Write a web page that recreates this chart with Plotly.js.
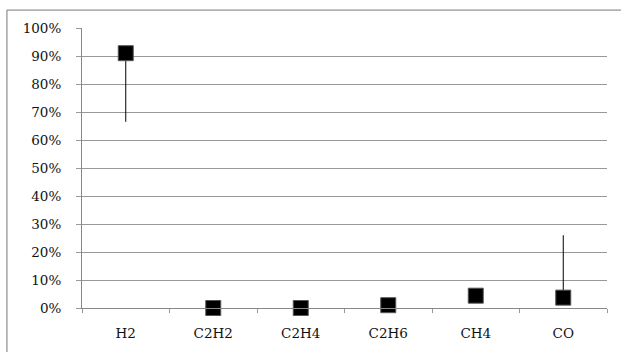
<!DOCTYPE html>
<html>
<head>
<meta charset="utf-8">
<script src="https://cdn.plot.ly/plotly-3.0.1.min.js"></script>
<style>html,body{margin:0;padding:0;background:#fff;}#chart{width:621px;height:352px;}</style>
</head>
<body>
<div id="chart"></div>
<script>
var categories = ["H2", "C2H2", "C2H4", "C2H6", "CH4", "CO"];
var values = [0.91, 0.0, 0.0, 0.01, 0.044, 0.037];
var errPlus = [0, 0, 0, 0, 0, 0.223];
var errMinus = [0.245, 0, 0, 0, 0, 0];
var yTicks = [0, 0.1, 0.2, 0.3, 0.4, 0.5, 0.6, 0.7, 0.8, 0.9, 1.0];

var trace = {
  type: "scatter",
  mode: "markers",
  x: categories,
  y: values,
  marker: {symbol: "square", size: 15, color: "#000", line: {color: "#555", width: 1}},
  error_y: {type: "data", symmetric: false, array: errPlus, arrayminus: errMinus,
            color: "#000", thickness: 1, width: 0},
  cliponaxis: false,
  hoverinfo: "skip"
};

var font = {family: "DejaVu Serif, Liberation Serif, serif", size: 13.5, color: "#111"};

var layout = {
  width: 621, height: 352,
  margin: {l: 82, r: 14, t: 28, b: 44},
  paper_bgcolor: "#fff", plot_bgcolor: "#fff",
  font: font,
  showlegend: false,
  xaxis: {
    type: "category",
    range: [-0.5, 5.5],
    showgrid: false,
    showline: true, linecolor: "#888", linewidth: 1,
    ticks: "outside", tickson: "boundaries", ticklen: 4, tickcolor: "#999",
    tickfont: font,
    ticklabelstandoff: 13,
    fixedrange: true
  },
  yaxis: {
    range: [0, 1.0],
    tickvals: yTicks,
    tickformat: ".0%",
    showgrid: true, gridcolor: "#999", gridwidth: 1,
    zeroline: false,
    showline: true, linecolor: "#888", linewidth: 1,
    ticks: "outside", ticklen: 5, tickcolor: "#999",
    tickfont: font,
    ticklabelstandoff: 12,
    fixedrange: true
  },
  shapes: [{
    type: "rect", xref: "paper", yref: "paper",
    x0: -0.143, x1: 1.04, y0: -0.18, y1: 1.064,
    line: {color: "#777", width: 1}, fillcolor: "rgba(0,0,0,0)", layer: "below"
  }]
};

Plotly.newPlot("chart", [trace], layout, {displayModeBar: false, staticPlot: true});
</script>
</body>
</html>
